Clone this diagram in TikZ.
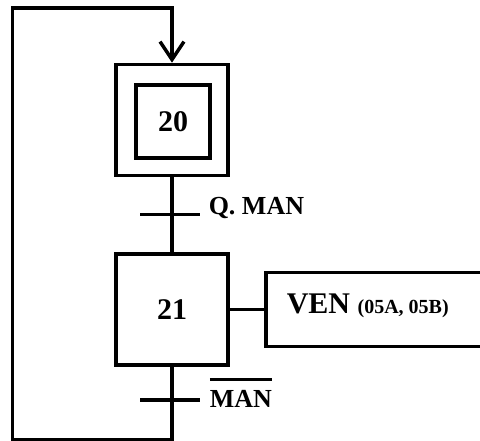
\documentclass[tikz,border=0pt]{standalone}
\usepackage{fontspec}
\setmainfont{Liberation Serif}
\usetikzlibrary{arrows.meta}
\begin{document}
\begin{tikzpicture}[x=1pt,y=-1pt,line width=3.5pt,line join=miter,
  stepbox/.style={draw,minimum width=112pt,minimum height=111pt,inner sep=0pt,
    font=\fontsize{30}{36}\selectfont\bfseries},
  initbox/.style={draw,minimum width=74pt,minimum height=73pt,inner sep=0pt,
    font=\fontsize{30}{36}\selectfont\bfseries},
  actbox/.style={draw,minimum width=221pt,minimum height=73.5pt,inner sep=0pt,anchor=west},
  lab/.style={anchor=base west,inner sep=0pt,font=\fontsize{26}{30}\selectfont\bfseries},
  acttext/.style={anchor=base west,inner sep=0pt,font=\fontsize{30}{36}\selectfont\bfseries},
  arr/.style={-{Straight Barb[length=18pt,width=24pt]}}]
\useasboundingbox (0,0) rectangle (480,441);
% steps
\node[stepbox] (s20) at (172,120) {};
\node[initbox] (s20i) at (173,121.5) {20};
\node[stepbox] (s21) at (172,309.5) {21};
% action
\node[actbox] (act) at (264,309.5) {};
\node[acttext] (acttxt) at (285,313) {VEN {\fontsize{20}{24}\selectfont (05A, 05B)}};
\draw (s21.east) -- (act.west);
% links and transitions
\draw (s20.south) -- (s21.north);
\coordinate (t1) at (172,214.5);
\draw ([xshift=-32pt]t1) -- ([xshift=28pt]t1);
\node[lab] (qman) at (207,215) {Q. MAN};
\coordinate (t2) at (172,400);
\draw ([xshift=-32pt]t2) -- ([xshift=28pt]t2);
\node[lab] (nman) at (208,407) {\vbox{\hrule height 3pt\vskip 9pt\hbox{MAN}}};
% loop back
\coordinate (c1) at (172,440);
\coordinate (c2) at (12.5,440);
\coordinate (c3) at (12.5,8);
\coordinate (c4) at (172,8);
\draw[arr] (s21.south) -- (c1) -- (c2) -- (c3) -- (c4) -- (s20.north);
\end{tikzpicture}
\end{document}
